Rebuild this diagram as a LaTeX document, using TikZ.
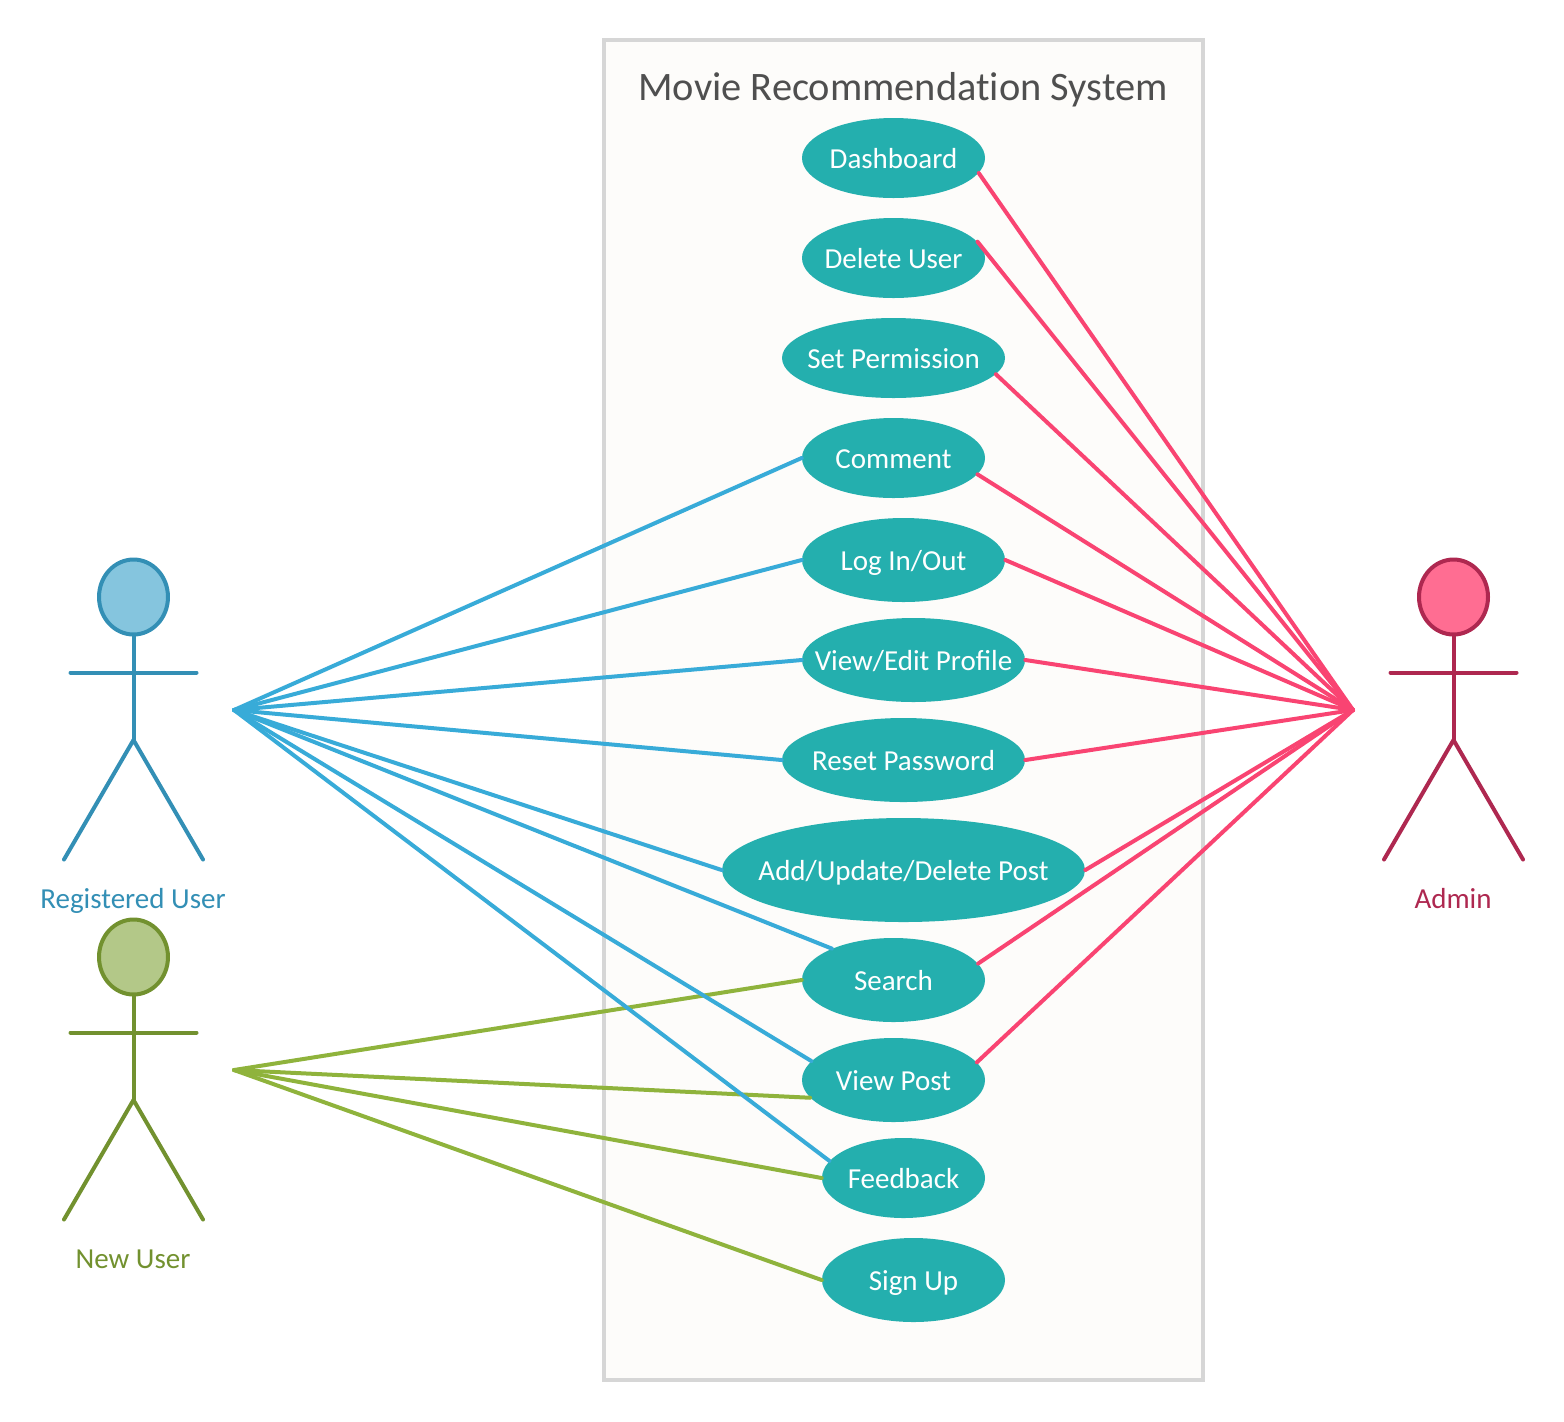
\documentclass[tikz,border=0pt]{standalone}
\usepackage{fontspec}
\setmainfont{Carlito}
\usetikzlibrary{shapes.geometric}

\definecolor{boxfill}{HTML}{FDFCFA}
\definecolor{boxline}{HTML}{D6D6D6}
\definecolor{titlegray}{HTML}{4F4F4F}
\definecolor{usecasefill}{HTML}{24AFAE}
\definecolor{reglink}{HTML}{38ABD8}
\definecolor{regline}{HTML}{338FB5}
\definecolor{regfill}{HTML}{85C5DE}
\definecolor{newlink}{HTML}{8FB33C}
\definecolor{newline}{HTML}{72912F}
\definecolor{newfill}{HTML}{B3C888}
\definecolor{adminlink}{HTML}{F94472}
\definecolor{adminline}{HTML}{AE2850}
\definecolor{adminfill}{HTML}{FF6D92}

\tikzset{
	usecase/.style = {ellipse, fill = usecasefill, text = white, inner sep = 0pt, font = \fontsize{16.5}{18}\selectfont, text height = 0.5cm, text depth = 0.1cm},
	link/.style = {line width = 0.08cm, line cap = round},
	limb/.style = {line width = 0.08cm, line cap = round},
	head/.style = {ellipse, draw, line width = 0.08cm, inner sep = 0pt, minimum width = 1.38cm, minimum height = 1.5cm},
	actorlabel/.style = {font = \fontsize{16.5}{18}\selectfont, text height = 0.5cm, text depth = 0.1cm}
}

\begin{document}
\begin{tikzpicture}[x = 0.02cm, y = -0.02cm]
\useasboundingbox (0,0) rectangle (1564,1421);

\draw[line width = 0.08cm, draw = boxline, fill = boxfill] (604,40) rectangle (1203,1380);
\node[text = titlegray, font = \fontsize{23}{24}\selectfont, text height = 0.6cm, text depth = 0.1cm] (title) at (903,88) {Movie Recommendat\kern0pt ion System};

% actors
\foreach \name/\dx/\dy/\col/\lab in {reg/0/0/reg/Registered User, new/0/360/new/New User, admin/1320/0/admin/Admin}
{
	\begin{scope}[shift = {(\dx,\dy)}, draw = \col line, text = \col line]
		\node[head, fill = \col fill] (\name head) at (133.5,597) {};
		\draw[limb] (\name head.south) -- (133.5,740);
		\draw[limb] (70.5,672.5) -- (196.5,672.5);
		\draw[limb] (64,859.5) -- (133.5,740) -- (203,859.5);
		\node[actorlabel] (\name label) at (133,898) {\lab};
	\end{scope}
}

% use cases
\foreach \name/\px/\py/\rx/\ry/\lab in {
	dashboard/893.5/158/91.5/40/Dashboard,
	deleteuser/893.5/258/91.5/40/Delete User,
	setperm/893.5/358/111.5/40/Set Permission,
	comment/893.5/458/91.5/40/Comment,
	login/903.5/560/101.5/42/{Log In/Out},
	editprofile/913.5/660/111.5/42/{View/Edit Profile},
	resetpw/903.5/760/121.5/42/Reset Password,
	addpost/903.5/870/181.5/52/{Add/Update/Delete Post},
	search/893.5/980/91.5/42/Search,
	viewpost/893.5/1080/91.5/42/View Post,
	feedback/903.5/1178/81.5/40/Feedback,
	signup/913.5/1280/91.5/42/Sign Up}
	\node[usecase, minimum width = {2*\rx*0.02cm}, minimum height = {2*\ry*0.02cm}] (\name) at (\px,\py) {\makebox[0pt]{\lab}};

\coordinate (regfan) at (234,710);
\coordinate (newfan) at (234,1070);
\coordinate (adminfan) at (1353,710);

% links
\foreach \to in {search.west, viewpost.192.5, feedback.west, signup.west}
	\draw[link, newlink] (newfan) -- (\to);
\foreach \to in {comment.west, login.west, editprofile.west, resetpw.west, addpost.west, search.153, viewpost.167.5, feedback.167.4}
	\draw[link, reglink] (regfan) -- (\to);
\foreach \to in {dashboard.-10.4, deleteuser.11.8, setperm.-9.1, comment.-11, login.east, editprofile.east, resetpw.east, addpost.east, search.11.8, viewpost.12.4}
	\draw[link, adminlink] (adminfan) -- (\to);
\end{tikzpicture}
\end{document}
